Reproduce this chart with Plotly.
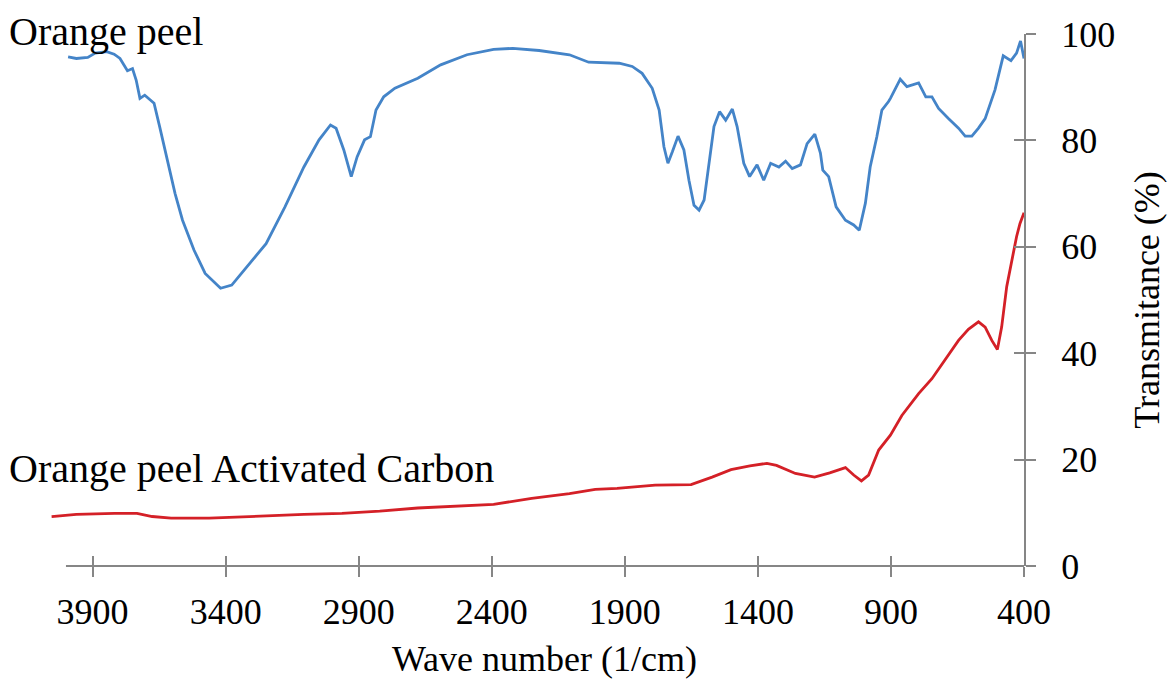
import plotly.graph_objects as go

# ---- data ----
blue_wn = [3992, 3961, 3918, 3890, 3847, 3819, 3797, 3769, 3750, 3736,
           3722, 3704, 3683, 3669, 3648, 3619, 3590, 3562, 3519, 3477,
           3419, 3377, 3320, 3248, 3177, 3106, 3049, 3006, 2985, 2956,
           2928, 2906, 2878, 2856, 2835, 2806, 2764, 2678, 2592, 2493,
           2393, 2321, 2222, 2108, 2036, 1986, 1921, 1872, 1835, 1797,
           1771, 1753, 1738, 1721, 1700, 1678, 1659, 1640, 1621, 1602,
           1584, 1565, 1544, 1521, 1496, 1478, 1453, 1431, 1403, 1378,
           1352, 1321, 1296, 1271, 1240, 1215, 1186, 1165, 1156, 1134,
           1106, 1071, 1040, 1019, 996, 978, 953, 934, 909, 902,
           865, 840, 796, 769, 746, 721, 684, 646, 621, 596,
           571, 546, 509, 478, 449, 428, 413, 400]
blue_t = [95.7, 95.4, 95.6, 96.4, 96.7, 96.2, 95.4, 93.1, 93.5, 91.3,
          87.9, 88.5, 87.6, 87.0, 82.6, 76.3, 70.0, 65.0, 59.4, 55.0,
          52.2, 52.8, 56.2, 60.6, 67.5, 75.0, 80.1, 82.9, 82.3, 78.2,
          73.2, 76.9, 80.1, 80.7, 85.7, 88.2, 89.8, 91.7, 94.2, 96.1,
          97.1, 97.3, 96.9, 96.1, 94.7, 94.6, 94.5, 93.9, 92.6, 89.8,
          85.7, 78.8, 75.7, 77.9, 80.8, 78.2, 72.5, 67.8, 66.9, 68.8,
          75.7, 82.6, 85.4, 83.8, 85.9, 82.6, 75.7, 73.2, 75.4, 72.5,
          75.7, 75.0, 76.1, 74.7, 75.4, 79.4, 81.2, 77.6, 74.4, 73.2,
          67.5, 65.0, 64.1, 63.1, 68.2, 75.0, 80.7, 85.7, 87.3, 87.9,
          91.5, 90.1, 90.8, 88.2, 88.2, 86.0, 84.1, 82.3, 80.8, 80.8,
          82.3, 84.1, 89.5, 95.9, 95.0, 96.4, 98.7, 95.4]

red_wn = [4054, 3961, 3818, 3733, 3676, 3605, 3462, 3320, 3106, 2963,
          2821, 2678, 2535, 2393, 2250, 2108, 2011, 1929, 1786, 1651,
          1572, 1501, 1430, 1366, 1330, 1259, 1187, 1130, 1071, 1040,
          1011, 984, 946, 902, 859, 796, 746, 696, 646, 609,
          571, 546, 521, 500, 484, 465, 446, 428, 415, 400]
red_t = [9.3, 9.7, 9.9, 9.9, 9.3, 9.0, 9.0, 9.3, 9.7, 9.9,
         10.3, 10.9, 11.3, 11.6, 12.7, 13.6, 14.4, 14.6, 15.2, 15.3,
         16.7, 18.1, 18.8, 19.3, 18.9, 17.4, 16.7, 17.5, 18.5, 17.1,
         16.0, 17.1, 21.8, 24.6, 28.3, 32.4, 35.2, 38.7, 42.4, 44.5,
         45.9, 44.9, 42.4, 40.7, 44.9, 52.5, 57.5, 61.9, 64.4, 66.4]

series_names = ["Orange peel", "Orange peel Activated Carbon"]
x_ticks = [3900, 3400, 2900, 2400, 1900, 1400, 900, 400]
y_ticks = [0, 20, 40, 60, 80, 100]
x_title = "Wave number (1/cm)"
y_title = "Transmitance (%)"

# ---- style ----
FONT = "Liberation Serif"
AXIS_GRAY = "#868686"
BLUE = "#4484c8"
RED = "#d42027"
X_RANGE = [4060, 400]
X_AXIS_START = 4000


def x_to_paper(v):
    return (X_RANGE[0] - v) / (X_RANGE[0] - X_RANGE[1])


fig = go.Figure()
fig.add_trace(go.Scatter(x=blue_wn, y=blue_t, mode="lines", name=series_names[0],
                         line=dict(color=BLUE, width=2.8), showlegend=False))
fig.add_trace(go.Scatter(x=red_wn, y=red_t, mode="lines", name=series_names[1],
                         line=dict(color=RED, width=2.8), showlegend=False))
# empty trace to host the overlay axes that draw the inner half of the crossing ticks
fig.add_trace(go.Scatter(x=[], y=[], xaxis="x2", yaxis="y2", showlegend=False,
                         hoverinfo="skip"))

tickfont = dict(family=FONT, size=36, color="black")

fig.update_layout(
    width=1172, height=680, autosize=False,
    margin=dict(l=50, r=146, t=34, b=114),
    paper_bgcolor="white", plot_bgcolor="white",
    font=dict(family=FONT, color="black"),
    xaxis=dict(range=X_RANGE, tickvals=x_ticks, ticktext=[str(v) for v in x_ticks],
               ticks="outside", ticklen=10, tickwidth=2, tickcolor=AXIS_GRAY,
               showline=False, showgrid=False, zeroline=False,
               tickfont=tickfont, ticklabelstandoff=4),
    xaxis2=dict(range=X_RANGE, overlaying="x", anchor="y2", side="bottom",
                tickvals=x_ticks, ticks="inside", ticklen=10, tickwidth=2,
                tickcolor=AXIS_GRAY, showticklabels=False, showline=False,
                showgrid=False, zeroline=False),
    yaxis=dict(range=[0, 100], side="right", tickvals=y_ticks,
               ticks="outside", ticklen=10, tickwidth=2, tickcolor=AXIS_GRAY,
               showline=True, linecolor=AXIS_GRAY, linewidth=2,
               showgrid=False, zeroline=False, tickfont=tickfont,
               ticklabelstandoff=18,
               title=dict(text=y_title, font=dict(family=FONT, size=36, color="black"),
                          standoff=20)),
    yaxis2=dict(range=[0, 100], overlaying="y", anchor="x2", side="right",
                tickvals=y_ticks, ticks="inside", ticklen=10, tickwidth=2,
                tickcolor=AXIS_GRAY, showticklabels=False, showline=False,
                showgrid=False, zeroline=False),
    shapes=[dict(type="line", xref="paper", yref="paper",
                 x0=x_to_paper(X_AXIS_START), x1=x_to_paper(X_RANGE[1]), y0=0, y1=0,
                 line=dict(color=AXIS_GRAY, width=2))],
    annotations=[
        dict(text=series_names[0], xref="paper", yref="paper", x=-0.044, y=1.0045,
             xanchor="left", yanchor="middle", showarrow=False,
             font=dict(family=FONT, size=40, color="black")),
        dict(text=series_names[1], xref="paper", yref="paper", x=-0.044, y=0.184,
             xanchor="left", yanchor="middle", showarrow=False,
             font=dict(family=FONT, size=40, color="black")),
        dict(text=x_title, xref="paper", yref="paper",
             x=(x_to_paper(X_AXIS_START) + x_to_paper(X_RANGE[1])) / 2, y=-0.174,
             xanchor="center", yanchor="middle", showarrow=False,
             font=dict(family=FONT, size=36, color="black")),
    ],
)

fig.write_html("out.html",
               config={"displayModeBar": False},
               post_script="document.body.style.margin='0px';")
